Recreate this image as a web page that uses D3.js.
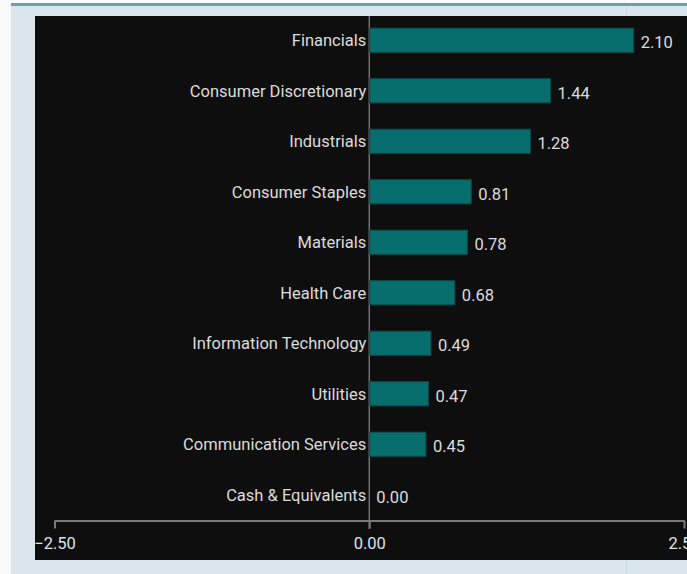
<!DOCTYPE html>
<html>
<head>
<meta charset="utf-8">
<script src="https://cdn.jsdelivr.net/npm/d3@7"></script>
<style>
  html, body { margin: 0; padding: 0; background: #f8f9f9; }
  svg { display: block; }
</style>
</head>
<body>
<svg id="chart" width="687" height="574"></svg>
<script>
// Sector weights (relative, %)
const sectors = [
  "Financials",
  "Consumer Discretionary",
  "Industrials",
  "Consumer Staples",
  "Materials",
  "Health Care",
  "Information Technology",
  "Utilities",
  "Communication Services",
  "Cash & Equivalents"
];
const weights = [2.10, 1.44, 1.28, 0.81, 0.78, 0.68, 0.49, 0.47, 0.45, 0.00];
const tickValues = [-2.5, 0, 2.5];

const svg = d3.select("#chart");
const W = 687, H = 574;
const font = "Roboto, 'Open Sans', sans-serif";
const fontSize = 16.5;

// page frame
svg.append("rect").attr("x", 11).attr("y", 0).attr("width", W - 11).attr("height", H).attr("fill", "#dae6eb");
svg.append("rect").attr("x", 11).attr("y", 0).attr("width", W - 11).attr("height", 3).attr("fill", "#f8f9f9");
svg.append("rect").attr("x", 11).attr("y", 3).attr("width", W - 11).attr("height", 3).attr("fill", "#6b9fae");
svg.append("line").attr("x1", 626.5).attr("x2", 626.5).attr("y1", 6).attr("y2", H).attr("stroke", "#c5d6dc").attr("stroke-width", 1);

// dark panel
svg.append("rect").attr("x", 35).attr("y", 16).attr("width", W - 35).attr("height", 544).attr("fill", "#0e0e0e");

const x = d3.scaleLinear().domain([-2.5, 2.5]).range([54.5, 684]);
const y = d3.scaleBand().domain(sectors).range([15, 520]).paddingInner(0.52).paddingOuter(0.26);

// zero line
svg.append("line")
  .attr("x1", x(0)).attr("x2", x(0))
  .attr("y1", 16).attr("y2", 529)
  .attr("stroke", "#8a8a8a").attr("stroke-width", 1.2);

// bars
const rows = sectors.map((s, i) => ({ s, v: weights[i] }));
svg.append("g").selectAll("rect").data(rows).join("rect")
  .attr("x", d => x(0) + 0.5)
  .attr("y", d => y(d.s))
  .attr("width", d => Math.max(0, x(d.v) - x(0) - 0.5))
  .attr("height", y.bandwidth())
  .attr("fill", "#076d6d")
  .attr("stroke", d => d.v === 0 ? "#2f7a4e" : "#0b4a4a")
  .attr("stroke-width", d => d.v === 0 ? 2 : 1);

// category labels
svg.append("g").selectAll("text").data(rows).join("text")
  .attr("x", x(0) - 3)
  .attr("y", d => y(d.s) + y.bandwidth() / 2)
  .attr("dy", "0.35em")
  .attr("text-anchor", "end")
  .attr("font-family", font).attr("font-size", fontSize)
  .attr("fill", "#dcdcdc")
  .text(d => d.s);

// value labels
svg.append("g").selectAll("text").data(rows).join("text")
  .attr("x", d => x(d.v) + 7)
  .attr("y", d => y(d.s) + y.bandwidth() / 2 + 2)
  .attr("dy", "0.35em")
  .attr("font-family", font).attr("font-size", fontSize)
  .attr("fill", "#dcdcdc")
  .text(d => d3.format(".2f")(d.v));

// axis
const axis = svg.append("g").attr("transform", "translate(0,520.5)")
  .call(d3.axisBottom(x).tickValues(tickValues).tickSize(8).tickSizeOuter(0).tickFormat(d3.format(".2f")));
axis.select(".domain").attr("stroke", "#7a7a7a").attr("stroke-width", 2);
axis.selectAll(".tick line").attr("stroke", "#7a7a7a").attr("stroke-width", 2);
axis.selectAll(".tick text")
  .attr("y", 17)
  .attr("font-family", font).attr("font-size", fontSize)
  .attr("fill", "#dde3ea");
</script>
</body>
</html>
